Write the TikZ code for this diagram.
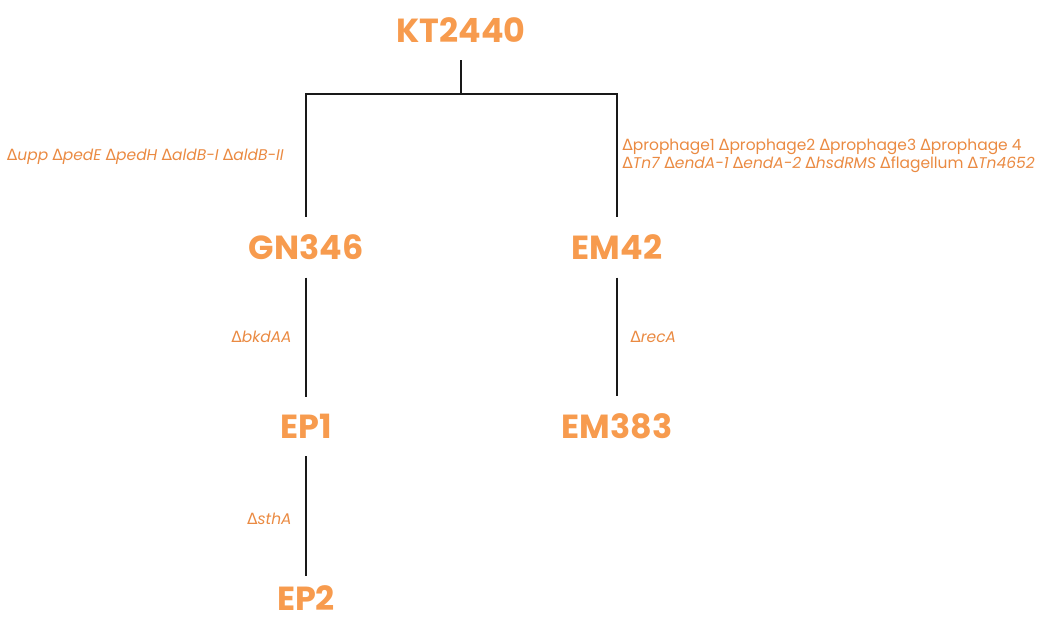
\documentclass[tikz,border=0pt]{standalone}
\usepackage{fontspec}
\setmainfont{Poppins}
\newfontfamily\dvfont{DejaVu Sans}
\usetikzlibrary{positioning, calc}
\usepackage{xcolor}
\definecolor{straincolor}{RGB}{247,155,78}
\definecolor{delcolor}{RGB}{234,138,66}
\newcommand{\del}{{\dvfont\upshape Δ}}
\tikzset{
  strain/.style  = {font=\fontsize{19}{21}\selectfont\bfseries, text=straincolor,
                    inner xsep=2pt, inner ysep=9.8pt},
  dlabel/.style  = {font=\fontsize{8.8}{10.4}\selectfont, text=delcolor,
                    inner sep=0pt, align=left},
  lineage/.style = {draw=black!90, line width=1.1pt},
}

\begin{document}
\begin{tikzpicture}[x=0.02cm, y=-0.02cm]
  \useasboundingbox (0,0) rectangle (1045,621);

  \node[strain] (kt)    at (461,30)    {KT2440};
  \node[strain] (gn)    at (306,247.5) {GN346};
  \node[strain] (em)    at (617,247.5) {EM42};
  \node[strain] (ep1)   at (306,426.5) {EP1};
  \node[strain] (em383) at (617,426.5) {EM383};
  \node[strain, inner ysep=3pt] (ep2) at (306,598) {EP2};
  \coordinate (split) at (461,94);

  \draw[lineage] (kt) -- (split);
  \draw[lineage] (split) -| (gn);
  \draw[lineage] (split) -| (em);
  \draw[lineage] (gn) -- (ep1);
  \draw[lineage, shorten >=2pt] (ep1) -- (ep2);
  \draw[lineage] (em) -- (em383);

  \node[dlabel, anchor=east] (dgn) at (284,157)
    {\del\textit{upp} \del\textit{pedE} \del\textit{pedH} \del\textit{aldB-I} \del\textit{aldB-II}};
  \node[dlabel, anchor=west] (dem) at (622,156)
    {\del prophage1 \del prophage2 \del prophage3 \del prophage 4\\
     \del\textit{Tn7} \del\textit{endA-1} \del\textit{endA-2} \del\textit{hsdRMS} \del flagellum \del\textit{Tn4652}};
  \node[dlabel, anchor=east] (dep1) at (292,337) {\del\textit{bkdAA}};
  \node[dlabel, anchor=west] (dem383) at (630,337) {\del\textit{recA}};
  \node[dlabel, anchor=east] (dep2) at (292,519) {\del\textit{sthA}};
\end{tikzpicture}
\end{document}
